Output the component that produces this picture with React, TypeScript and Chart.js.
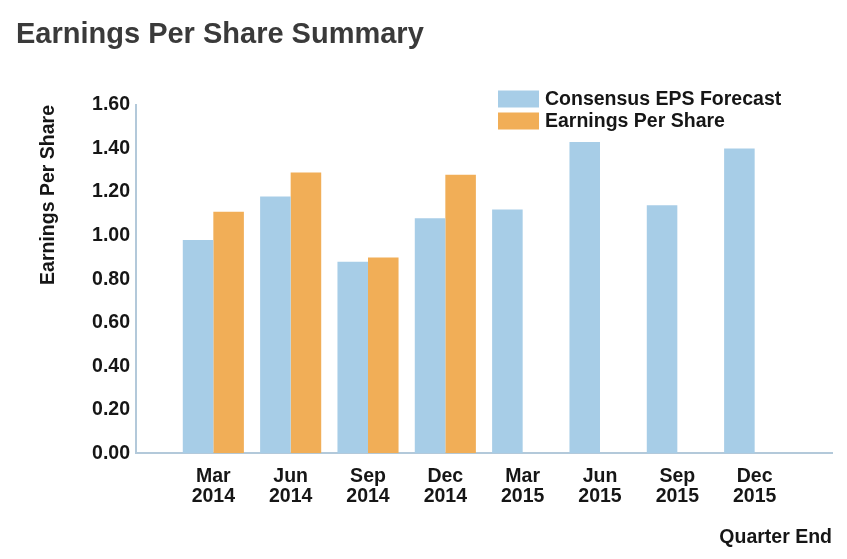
import React, { useEffect, useRef } from "react";
import { Chart, registerables } from "chart.js";

Chart.register(...registerables);

const FONT = "'Liberation Sans', Arial, Helvetica, sans-serif";

const categories: string[][] = [
  ["Mar", "2014"],
  ["Jun", "2014"],
  ["Sep", "2014"],
  ["Dec", "2014"],
  ["Mar", "2015"],
  ["Jun", "2015"],
  ["Sep", "2015"],
  ["Dec", "2015"],
];
const consensusEps: number[] = [0.98, 1.18, 0.88, 1.08, 1.12, 1.43, 1.14, 1.4];
const actualEps: (number | null)[] = [1.11, 1.29, 0.9, 1.28, null, null, null, null];
const yTicks = { min: 0, max: 1.6, step: 0.2 };

const BLUE = "#a7cde7";
const ORANGE = "#f1ae57";
const AXIS_LINE = "#b3c9da";
const TEXT = "#161616";

const cornerLegend = {
  id: "cornerLegend",
  afterDraw(chart: any) {
    const ctx = chart.ctx;
    const x0 = 498;
    const y0 = 90;
    const row = 22;
    ctx.save();
    ctx.font = `bold 19.5px ${FONT}`;
    ctx.textBaseline = "middle";
    ctx.textAlign = "left";
    chart.data.datasets.forEach((ds: any, i: number) => {
      const cy = y0 + i * row + 9;
      ctx.fillStyle = ds.backgroundColor;
      ctx.fillRect(x0, cy - 8.5, 41, 17);
      ctx.fillStyle = TEXT;
      ctx.fillText(ds.label, x0 + 47, cy + 1);
    });
    ctx.restore();
  },
};

export default function App() {
  const ref = useRef<HTMLCanvasElement | null>(null);

  useEffect(() => {
    if (!ref.current) return;
    const labels: (string | string[])[] = ["", ...categories, ""];
    const chart = new Chart(ref.current, {
      type: "bar",
      data: {
        labels,
        datasets: [
          {
            label: "Consensus EPS Forecast",
            data: [null, ...consensusEps, null],
            backgroundColor: BLUE,
            borderWidth: 0,
          },
          {
            label: "Earnings Per Share",
            data: [null, ...actualEps, null],
            backgroundColor: ORANGE,
            borderWidth: 0,
          },
        ],
      },
      options: {
        responsive: false,
        animation: false,
        devicePixelRatio: 1,
        categoryPercentage: 0.79,
        barPercentage: 1.0,
        layout: { padding: { left: 16, right: 15, top: 0, bottom: 0 } },
        plugins: {
          legend: { display: false },
          tooltip: { enabled: false },
          title: {
            display: true,
            text: "Earnings Per Share Summary",
            align: "start",
            color: "#3a3a3a",
            font: { family: FONT, size: 29, weight: "bold", lineHeight: 1.2 },
            padding: { top: 17.6, bottom: 52.6 },
          },
        },
        scales: {
          x: {
            type: "category",
            offset: false,
            grid: { display: false, drawTicks: false },
            border: { display: true, color: AXIS_LINE, width: 2 },
            ticks: {
              autoSkip: false,
              maxRotation: 0,
              minRotation: 0,
              padding: 14,
              color: TEXT,
              font: { family: FONT, size: 19.5, weight: "bold", lineHeight: 1.0 },
            },
            title: {
              display: true,
              text: "Quarter End",
              align: "end",
              color: TEXT,
              font: { family: FONT, size: 19.5, weight: "bold", lineHeight: 1.2 },
              padding: { top: 0, bottom: 9.3 },
            },
            afterFit: (scale: any) => {
              scale.height = 105.7;
            },
          },
          y: {
            min: yTicks.min,
            max: yTicks.max,
            grid: { display: false, drawTicks: false },
            border: { display: true, color: AXIS_LINE, width: 2 },
            ticks: {
              stepSize: yTicks.step,
              padding: 6,
              color: TEXT,
              font: { family: FONT, size: 19.5, weight: "bold" },
              callback: (v: any) => Number(v).toFixed(2),
            },
            title: {
              display: true,
              text: "Earnings Per Share",
              align: "end",
              color: TEXT,
              font: { family: FONT, size: 19.5, weight: "bold", lineHeight: 1.2 },
              padding: { top: 21, bottom: 0 },
            },
            afterFit: (scale: any) => {
              scale.width = 120;
            },
          },
        },
      },
      plugins: [cornerLegend],
    });
    return () => chart.destroy();
  }, []);

  return (
    <div style={{ position: "fixed", left: 0, top: 0, width: 847, height: 559, background: "#fff" }}>
      <canvas ref={ref} width={847} height={559} style={{ display: "block", width: 847, height: 559 }} />
    </div>
  );
}
